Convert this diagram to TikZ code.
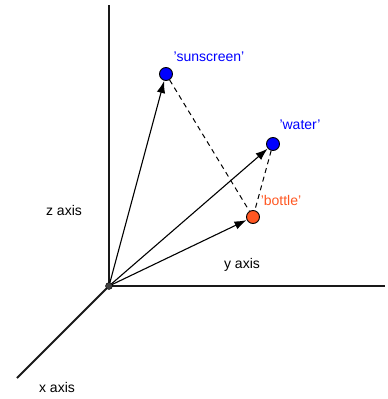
\documentclass[tikz,border=0pt]{standalone}
\usepackage{fontspec}
\setmainfont{Liberation Sans}
\usetikzlibrary{arrows.meta}
\definecolor{ptblue}{RGB}{0,0,255}
\definecolor{ptorange}{RGB}{255,87,34}
\begin{document}
\begin{tikzpicture}[x=1pt,y=-1pt,
  axisline/.style={line width=1.8pt,black!90},
  vec/.style={line width=1.1pt,-{Latex[length=12pt,width=8.5pt]},shorten >=0.3pt},
  dashline/.style={line width=1pt,dashed,dash pattern=on 5pt off 4pt},
  pt/.style={circle,draw=black,line width=0.9pt,inner sep=0pt,minimum size=13pt},
  lbl/.style={font=\fontsize{14}{16}\selectfont,inner sep=0pt}]
\useasboundingbox (0,0) rectangle (388,399);
\coordinate (o) at (109,286);
\coordinate (ztop) at (109,5);
\coordinate (yend) at (385,286);
\coordinate (xend) at (17,378);
\draw[axisline] (o) -- (ztop);
\draw[axisline] (o) -- (yend);
\draw[axisline] (o) -- (xend);
\node[pt,fill=ptblue] (sun) at (166,74) {};
\node[pt,fill=ptblue] (wat) at (273,144) {};
\node[pt,fill=ptorange] (bot) at (253,217) {};
\draw[dashline] (sun) -- (bot);
\draw[dashline] (wat) -- (bot);
\draw[vec] (o) -- (sun);
\draw[vec] (o) -- (wat);
\draw[vec] (o) -- (bot);
\node[circle,fill=black!75,draw=black,inner sep=0pt,minimum size=7pt] (odot) at (o) {};
\node[lbl,text=ptblue] (sunl) at (209,57) {'sunscreen'};
\node[lbl,text=ptblue] (watl) at (300,125) {'water'};
\node[lbl,text=ptorange] (botl) at (281,200) {'bottle'};
\node[lbl] (zl) at (64,210) {z axis};
\node[lbl] (yl) at (242,265) {y axis};
\node[lbl] (xl) at (57,387) {x axis};
\end{tikzpicture}
\end{document}
